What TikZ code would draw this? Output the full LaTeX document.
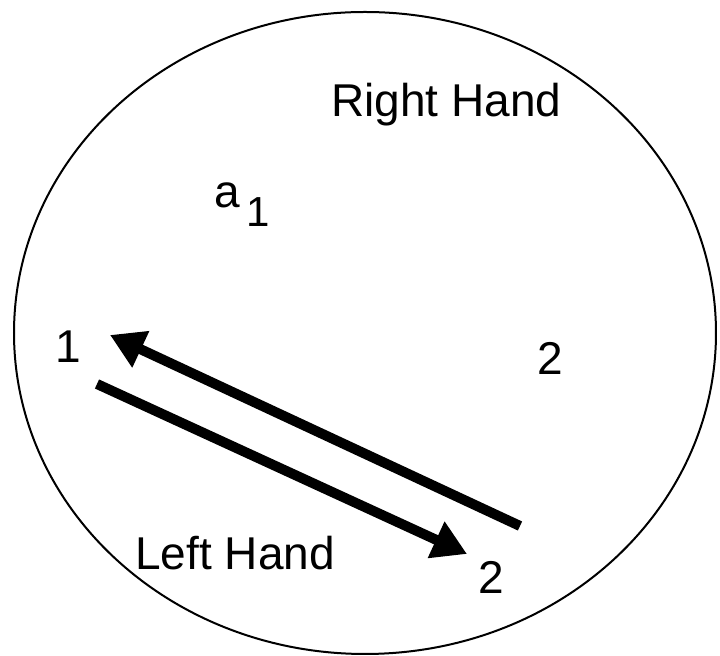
\documentclass[tikz,border=0pt]{standalone}
\usepackage{fontspec}
\setmainfont{Liberation Sans}
\usetikzlibrary{arrows.meta}

\begin{document}
\begin{tikzpicture}[x=0.5pt, y=-0.5pt,
	every node/.style={font=\fontsize{23}{27}\selectfont, inner sep=0pt},
	hand/.style={line width=5pt, -{Triangle[length=17pt, width=19pt]}}]
	\useasboundingbox (0,0) rectangle (720,656);
	\draw[line width=1pt] (365,333) ellipse [x radius=351, y radius=321];
	\node[anchor=base west] (right) at (331,117) {Right Hand};
	\node[anchor=base west] (left) at (135,570) {Left Hand};
	\node[anchor=base west] (a) at (214,208) {a};
	\node[anchor=base west, font=\fontsize{21}{25}\selectfont] (aone) at (246,227) {1};
	\node[anchor=base] (one) at (68,363) {1};
	\node[anchor=base] (rtwo) at (550,375) {2};
	\node[anchor=base] (btwo) at (491,594) {2};
	\coordinate (upTail) at (520,526);
	\coordinate (upTip) at (110,335);
	\coordinate (lowTail) at (97,384);
	\coordinate (lowTip) at (467,554);
	\draw[hand] (upTail) -- (upTip);
	\draw[hand] (lowTail) -- (lowTip);
\end{tikzpicture}
\end{document}
